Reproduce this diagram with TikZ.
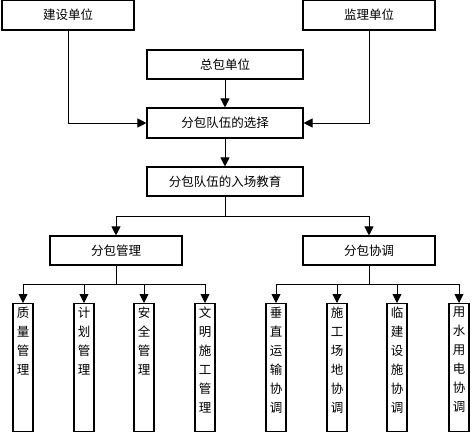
\documentclass[tikz,border=0pt]{standalone}
\usepackage{fontspec}
\setmainfont{Noto Sans CJK SC}
\usetikzlibrary{arrows.meta}

\begin{document}
\begin{tikzpicture}[x=1pt,y=-1pt,
    box/.style={draw, line width=1.1pt, inner sep=0pt, font=\fontsize{12.5}{15}\selectfont},
    arr/.style={line width=0.9pt, -{Triangle[width=9pt,length=9pt]}},
    tall/.style={draw, line width=1.1pt, minimum width=20pt, minimum height=128pt, inner sep=0pt, anchor=north},
    vtxt/.style={anchor=north, align=center, inner sep=0pt, font=\fontsize{12.5}{19}\selectfont}]

    \useasboundingbox (0,0) rectangle (473,432);

    % --- top row ---
    \node[box, minimum width=132pt, minimum height=30pt] (js) at (68,15) {建设单位};
    \node[box, minimum width=132pt, minimum height=30pt] (jl) at (369,15) {监理单位};
    \node[box, minimum width=156pt, minimum height=29pt] (zb) at (225,64.5) {总包单位};

    % --- middle column ---
    \node[box, minimum width=156pt, minimum height=30pt] (xz) at (225,123) {分包队伍的选择};
    \node[box, minimum width=156pt, minimum height=29pt] (jy) at (225,181.5) {分包队伍的入场教育};

    % --- two branches ---
    \node[box, minimum width=132pt, minimum height=29pt] (gl) at (116,250.5) {分包管理};
    \node[box, minimum width=132pt, minimum height=29pt] (xt) at (369,250.5) {分包协调};

    % --- connectors above ---
    \draw[arr] (js.south) |- (xz.west);
    \draw[arr] (jl.south) |- (xz.east);
    \draw[arr] (zb.south) -- (xz.north);
    \draw[arr] (xz.south) -- (jy.north);
    \draw[arr] (jy.south) -- ++(0,20) -| (gl.north);
    \draw[arr] (jy.south) -- ++(0,20) -| (xt.north);

    % --- tall boxes, vertical text ---
    \foreach \x/\n/\t/\p in {23/a1/{质\\量\\管\\理}/gl,
                           84/a2/{计\\划\\管\\理}/gl,
                           144/a3/{安\\全\\管\\理}/gl,
                           205/a4/{文\\明\\施\\工\\管\\理}/gl,
                           276/b1/{垂\\直\\运\\输\\协\\调}/xt,
                           337/b2/{施\\工\\场\\地\\协\\调}/xt,
                           397/b3/{临\\建\\设\\施\\协\\调}/xt,
                           459/b4/{用\\水\\用\\电\\协\\调}/xt}{
        \node[tall] (\n) at (\x,303) {};
        \node[vtxt] (\n t) at ([yshift=-4pt]\n.north) {\t};
        \draw[arr] (\p.south) -- ++(0,19) -| (\n.north);
    }

\end{tikzpicture}
\end{document}
